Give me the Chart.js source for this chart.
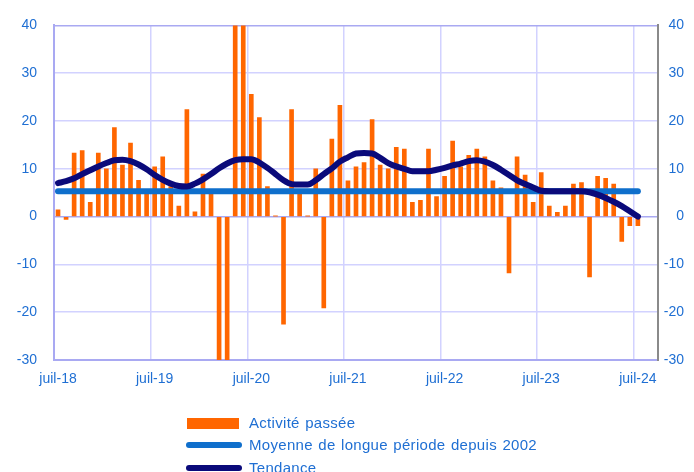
<!DOCTYPE html>
<html lang="fr">
<head>
<meta charset="utf-8">
<script src="https://cdn.jsdelivr.net/npm/chart.js@4/dist/chart.umd.min.js"></script>
<style>
  html, body { margin: 0; padding: 0; background: #ffffff; overflow: hidden; }
  #wrap { position: relative; width: 694px; height: 472px; }
  #chart { position: absolute; left: 0; top: 0; }
  .legend { position: absolute; left: 187px; top: 412px; font-family: "Liberation Sans", Arial, sans-serif;
            font-size: 15px; color: #1f6fd3; word-spacing: 1px; letter-spacing: 0.3px; }
  .legend .row { position: relative; height: 22px; line-height: 22px; padding-left: 62px; white-space: nowrap; }
  .legend .sw { position: absolute; left: 0; }
  .legend .bar { top: 6px; width: 52px; height: 11px; background: #ff6600; }
  .legend .line { top: 8px; left: -1px; width: 56px; height: 6px; border-radius: 3px; }
</style>
</head>
<body>
<div id="wrap">
  <canvas id="chart" width="694" height="472"></canvas>
  <div class="legend">
    <div class="row"><span class="sw bar"></span>Activité passée</div>
    <div class="row"><span class="sw line" style="background:#0f6fcc"></span>Moyenne de longue période depuis 2002</div>
    <div class="row" style="top:1px"><span class="sw line" style="background:#0a0a7a"></span>Tendance</div>
  </div>
</div>
<script>
// Monthly categories, July 2018 to September 2024 (last two months empty)
const monthAbbr = ['janv', 'févr', 'mars', 'avr', 'mai', 'juin', 'juil', 'août', 'sept', 'oct', 'nov', 'déc'];
const categories = [];
for (let k = 0; k < 75; k++) {
  const m = (6 + k) % 12;
  const y = 18 + Math.floor((6 + k) / 12);
  categories.push(monthAbbr[m] + '-' + y);
}

// Activité passée (solde d'opinion, mensuel)
const pastActivity = [
  1.4, -0.6, 13.3, 13.8, 3.0, 13.3,
  10.0, 18.6, 10.8, 15.4, 7.6, 4.8, 10.4, 12.5, 6.3, 2.2, 22.4, 1.0,
  8.9, 4.8, -38, -36, 48, 45, 25.6, 20.7, 6.3, 0.1, -22.5, 22.4,
  4.8, 0.1, 10.0, -19.1, 16.2, 23.3, 7.5, 10.4, 11.3, 20.3, 10.8, 10.0,
  14.5, 14.1, 3.0, 3.4, 14.1, 4.2, 8.4, 15.8, 10.4, 12.8, 14.1, 12.5,
  7.5, 6.0, -11.8, 12.5, 8.7, 3.0, 9.2, 2.2, 0.9, 2.2, 6.8, 7.1,
  -12.6, 8.4, 8.0, 6.8, -5.2, -1.9, -1.9
];

// Tendance
const trend = [
  7.0, 7.4, 8.0, 8.9, 9.7, 10.5, 11.2, 11.8, 11.9, 11.6,
  10.9, 9.9, 8.7, 7.7, 6.9, 6.4, 6.3, 6.9, 7.8, 8.9,
  10.1, 11.1, 11.8, 12.0, 12.0, 11.3, 10.2, 8.9, 7.6, 6.8,
  6.7, 6.7, 7.6, 8.9, 10.1, 11.5, 12.4, 13.2, 13.3, 13.2,
  12.3, 11.2, 10.5, 10.0, 9.5, 9.5, 9.5, 9.8, 10.2, 10.7,
  11.1, 11.6, 11.8, 11.5, 10.8, 9.8, 8.7, 7.6, 6.8, 6.1,
  5.4, 5.3, 5.3, 5.3, 5.3, 5.3, 5.1, 4.6, 3.9, 3.1,
  2.2, 1.1, 0.0
];

// Moyenne de longue période depuis 2002
const longTermMean = 5.3;
const meanSeries = pastActivity.map(() => longTermMean);

const yTicks = [-30, -20, -10, 0, 10, 20, 30, 40];

const blueText = '#1f6fd3';
const gridLight = '#d2d2ff';
const gridMid = '#a9a9f2';
const font = { family: '"Liberation Sans", Arial, sans-serif', size: 14 };

new Chart(document.getElementById('chart'), {
  data: {
    labels: categories,
    datasets: [
      {
        type: 'line',
        label: 'Tendance',
        data: trend,
        borderColor: '#0a0a7a',
        borderWidth: 6,
        borderCapStyle: 'round',
        borderJoinStyle: 'round',
        pointRadius: 0,
        tension: 0.4,
        cubicInterpolationMode: 'monotone',
        yAxisID: 'y',
        order: 1
      },
      {
        type: 'line',
        label: 'Moyenne de longue période depuis 2002',
        data: meanSeries,
        borderColor: '#0f6fcc',
        borderWidth: 6,
        borderCapStyle: 'round',
        pointRadius: 0,
        yAxisID: 'y',
        order: 2
      },
      {
        type: 'bar',
        label: 'Activité passée',
        data: pastActivity,
        backgroundColor: '#ff6600',
        borderWidth: 0,
        barThickness: 4,
        yAxisID: 'y',
        order: 3
      }
    ]
  },
  options: {
    responsive: false,
    animation: false,
    layout: { padding: { top: 18, left: 0, right: 10, bottom: 0 } },
    plugins: { legend: { display: false }, tooltip: { enabled: false } },
    scales: {
      x: {
        type: 'category',
        offset: true,
        grid: {
          offset: true,
          drawTicks: false,
          lineWidth: 1.5,
          color: (ctx) => (ctx.index % 12 === 0 ? gridLight : 'rgba(0,0,0,0)')
        },
        border: { color: gridMid, width: 2 },
        ticks: {
          autoSkip: false,
          maxRotation: 0,
          minRotation: 0,
          padding: 11,
          color: blueText,
          font: font,
          callback: function (value, index) {
            const lab = categories[index];
            return lab.startsWith('juil') ? lab : '';
          }
        },
        afterFit: (scale) => { scale.height = 112; }
      },
      y: {
        position: 'left',
        min: -30,
        max: 40,
        afterBuildTicks: (scale) => { scale.ticks = yTicks.map(v => ({ value: v })); },
        grid: {
          drawTicks: false,
          lineWidth: 1.5,
          color: (ctx) => (ctx.tick && (ctx.tick.value === 0 || ctx.tick.value === 40) ? gridMid : gridLight)
        },
        border: { color: gridMid, width: 2 },
        ticks: { padding: 17, color: blueText, font: font },
        afterFit: (scale) => { scale.width = 54; }
      },
      y2: {
        position: 'right',
        min: -30,
        max: 40,
        afterBuildTicks: (scale) => { scale.ticks = yTicks.map(v => ({ value: v })); },
        grid: { drawOnChartArea: false, drawTicks: false },
        border: { color: '#8a8a8a', width: 2 },
        ticks: { crossAlign: 'far', color: blueText, font: font },
        afterFit: (scale) => { scale.width = 26; }
      }
    }
  }
});
</script>
</body>
</html>
